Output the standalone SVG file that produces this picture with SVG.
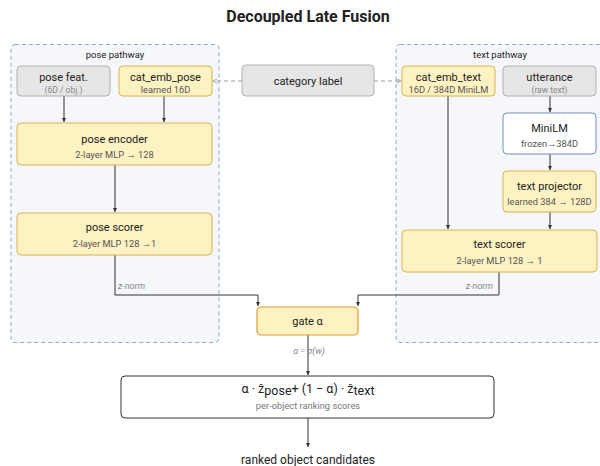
<svg xmlns="http://www.w3.org/2000/svg" width="600" height="466" viewBox="0 0 600 466">
  <defs>
    <style>
      text { font-family: Roboto, "Liberation Sans", sans-serif; fill: #222; text-anchor: middle; }
      .title { font-size: 16px; font-weight: bold; }
      .lane { fill: #f5f7fb; stroke: #8fa8c8; stroke-width: 1; stroke-dasharray: 4 3; }
      .lane-label { font-size: 9.5px; fill: #222; }
      .gray { fill: #e6e6e6; stroke: #b0b0b0; stroke-width: 1; }
      .yellow { fill: #fff2c2; stroke: #d8b34e; stroke-width: 1; }
      .gate { fill: #fff2c2; stroke: #e09a30; stroke-width: 1.2; }
      .blue { fill: #ffffff; stroke: #6c8ebf; stroke-width: 1; }
      .out { fill: #ffffff; stroke: #333; stroke-width: 1; }
      .main { font-size: 11px; }
      .sub { font-size: 9.3px; fill: #555; }
      .subg { font-size: 8.5px; fill: #888; }
      .note { font-size: 9px; fill: #888; font-style: italic; }
      .edge { fill: none; stroke: #333; stroke-width: 1; }
      .dash { fill: none; stroke: #999; stroke-width: 1; stroke-dasharray: 4 3; }
    </style>
    <marker id="arr" viewBox="0 0 6 6" refX="5" refY="3" markerWidth="5" markerHeight="5" orient="auto">
      <path d="M0,0.5 L5,3 L0,5.5 z" fill="#333"/>
    </marker>
    <marker id="arrg" viewBox="0 0 6 6" refX="5" refY="3" markerWidth="5" markerHeight="5" orient="auto">
      <path d="M0,0.5 L5,3 L0,5.5" fill="none" stroke="#999" stroke-width="1"/>
    </marker>
  </defs>

  <rect width="600" height="466" fill="#ffffff"/>
  <text class="title" x="308" y="22">Decoupled Late Fusion</text>

  <!-- pathway containers -->
  <g id="pose-pathway">
    <rect class="lane" x="11" y="44.5" width="208" height="298" rx="4"/>
    <text class="lane-label" x="115" y="58">pose pathway</text>
  </g>
  <g id="text-pathway">
    <rect class="lane" x="396" y="44.5" width="215" height="298" rx="4"/>
    <text class="lane-label" x="500" y="58">text pathway</text>
  </g>

  <!-- connectors -->
  <g id="connectors">
    <line class="dash" x1="242" y1="81" x2="213" y2="81" marker-end="url(#arrg)"/>
    <line class="dash" x1="374" y1="81" x2="401" y2="81" marker-end="url(#arrg)"/>
    <line class="edge" x1="64" y1="96" x2="64" y2="122" marker-end="url(#arr)"/>
    <line class="edge" x1="164" y1="96" x2="164" y2="122" marker-end="url(#arr)"/>
    <line class="edge" x1="115" y1="165" x2="115" y2="212" marker-end="url(#arr)"/>
    <polyline class="edge" points="115,255 115,295 258,295 258,306" marker-end="url(#arr)"/>
    <line class="edge" x1="550" y1="96" x2="550" y2="112" marker-end="url(#arr)"/>
    <line class="edge" x1="550" y1="154" x2="550" y2="170" marker-end="url(#arr)"/>
    <line class="edge" x1="550" y1="212" x2="550" y2="229" marker-end="url(#arr)"/>
    <line class="edge" x1="448" y1="96" x2="448" y2="229" marker-end="url(#arr)"/>
    <polyline class="edge" points="499,272 499,295 358,295 358,306" marker-end="url(#arr)"/>
    <line class="edge" x1="308" y1="335" x2="308" y2="375" marker-end="url(#arr)"/>
    <line class="edge" x1="308" y1="418" x2="308" y2="447" marker-end="url(#arr)"/>
    <text class="note" x="118" y="289" style="text-anchor:start">z-norm</text>
    <text class="note" x="493" y="289" style="text-anchor:end">z-norm</text>
    <text class="note" x="309" y="354">α = σ(w)</text>
  </g>

  <!-- pose side -->
  <g id="pose-feat">
    <rect class="gray" x="17" y="66" width="93" height="30" rx="4"/>
    <text class="main" x="63.5" y="81">pose feat.</text>
    <text class="subg" x="63.5" y="93">(6D / obj.)</text>
  </g>
  <g id="cat-emb-pose">
    <rect class="yellow" x="119" y="66" width="93" height="30" rx="4"/>
    <text class="main" x="165.5" y="81">cat_emb_pose</text>
    <text class="sub" x="165.5" y="93">learned 16D</text>
  </g>
  <g id="pose-encoder">
    <rect class="yellow" x="17" y="123" width="195" height="42" rx="4"/>
    <text class="main" x="114.5" y="143">pose encoder</text>
    <text class="sub" x="114.5" y="158">2-layer MLP → 128</text>
  </g>
  <g id="pose-scorer">
    <rect class="yellow" x="17" y="213" width="195" height="42" rx="4"/>
    <text class="main" x="114.5" y="231">pose scorer</text>
    <text class="sub" x="114.5" y="247">2-layer MLP 128 →1</text>
  </g>

  <!-- shared input -->
  <g id="category-label">
    <rect class="gray" x="242" y="65" width="132" height="31" rx="4"/>
    <text class="main" x="308" y="84.5">category label</text>
  </g>

  <!-- text side -->
  <g id="cat-emb-text">
    <rect class="yellow" x="402" y="66" width="93" height="30" rx="4"/>
    <text class="main" x="448.5" y="81">cat_emb_text</text>
    <text class="sub" x="448.5" y="93">16D / 384D MiniLM</text>
  </g>
  <g id="utterance">
    <rect class="gray" x="503" y="66" width="93" height="30" rx="4"/>
    <text class="main" x="549.5" y="81">utterance</text>
    <text class="subg" x="549.5" y="93">(raw text)</text>
  </g>
  <g id="minilm">
    <rect class="blue" x="503" y="113" width="93" height="41" rx="4"/>
    <text class="main" x="549.5" y="132">MiniLM</text>
    <text class="sub" x="549.5" y="147">frozen→384D</text>
  </g>
  <g id="text-projector">
    <rect class="yellow" x="503" y="171" width="93" height="41" rx="4"/>
    <text class="main" x="549.5" y="190">text projector</text>
    <text class="sub" x="549.5" y="205">learned 384 → 128D</text>
  </g>
  <g id="text-scorer">
    <rect class="yellow" x="402" y="230" width="195" height="42" rx="4"/>
    <text class="main" x="499.5" y="248">text scorer</text>
    <text class="sub" x="499.5" y="264">2-layer MLP 128 → 1</text>
  </g>

  <!-- fusion -->
  <g id="gate">
    <rect class="gate" x="257" y="307" width="101" height="28" rx="4"/>
    <text class="main" x="307.5" y="325">gate α</text>
  </g>
  <g id="fused-score">
    <rect class="out" x="121" y="376" width="373" height="42" rx="4"/>
    <text class="main" x="308" y="393" style="font-size:12.5px">α · ẑ<tspan dy="2">pose</tspan><tspan dy="-2">+ (1 − α) · ẑ</tspan><tspan dy="2">text</tspan></text>
    <text class="sub" x="308" y="409" style="fill:#777">per-object ranking scores</text>
  </g>
  <g id="ranked-candidates">
    <text class="main" x="308" y="464" style="font-size:12px">ranked object candidates</text>
  </g>
</svg>
